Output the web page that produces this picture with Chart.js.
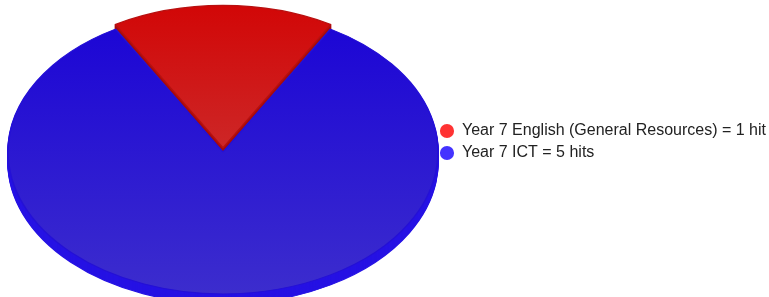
<!DOCTYPE html>
<html>
<head>
<meta charset="utf-8">
<script src="https://cdn.jsdelivr.net/npm/chart.js@4/dist/chart.umd.min.js"></script>
<style>
  html, body { margin: 0; padding: 0; background: #fff; }
  #wrap { width: 769px; height: 297px; position: relative; }
</style>
</head>
<body>
<div id="wrap"><canvas id="c"></canvas></div>
<script>
// ---- data ----
const categories = ['Year 7 English (General Resources)', 'Year 7 ICT'];
const hits = [1, 5];
const legendLabels = categories.map((c, i) => c + ' = ' + hits[i] + (hits[i] === 1 ? ' hit' : ' hits'));

// ---- styles ----
const topColors = [['#d20505', '#c84848'], ['#1902d6', '#3d2ecd']];
const sideColors = ['#a80a0a', '#2612e4'];
const edgeColors = ['#b81010', '#2410d6'];
const legendColors = ['#ff3333', '#4433ff'];
const explode = [16, 0];

function topGradient(c) {
  const i = c.dataIndex;
  const chart = c.chart;
  const area = chart.chartArea;
  if (!area || i === undefined) return topColors[0][0];
  const g = chart.ctx.createLinearGradient(0, area.top, 0, area.bottom);
  g.addColorStop(0, topColors[i][0]);
  g.addColorStop(1, topColors[i][1]);
  return g;
}

const tilt3d = {
  id: 'tilt3d',
  beforeDatasetsDraw(chart, args, opts) {
    const meta = chart.getDatasetMeta(0);
    const arcs = meta.data;
    if (!arcs.length) return;
    const ctx = chart.ctx;
    const cx = arcs[0].x, cy = arcs[0].y, R = arcs[0].outerRadius;
    const sx = opts.radiusX / R;
    const sy = opts.radiusX * opts.tilt / R;
    for (let d = opts.depth; d >= 1; d--) {
      arcs.forEach((arc, i) => {
        ctx.save();
        ctx.translate(cx, cy + d);
        ctx.scale(sx, sy);
        ctx.translate(-cx, -cy);
        const saved = arc.options;
        arc.options = Object.assign({}, saved, { backgroundColor: sideColors[i], borderColor: sideColors[i] });
        arc.draw(ctx);
        arc.options = saved;
        ctx.restore();
      });
    }
    ctx.save();
    ctx.translate(cx, cy);
    ctx.scale(sx, sy);
    ctx.translate(-cx, -cy);
  },
  afterDatasetsDraw(chart) {
    const meta = chart.getDatasetMeta(0);
    if (!meta.data.length) return;
    chart.ctx.restore();
  }
};

new Chart(document.getElementById('c'), {
  type: 'pie',
  data: {
    labels: legendLabels,
    datasets: [{
      data: hits,
      backgroundColor: topGradient,
      borderColor: edgeColors,
      borderWidth: 1,
      offset: explode
    }]
  },
  options: {
    responsive: true,
    maintainAspectRatio: false,
    animation: false,
    rotation: -30,
    layout: { padding: { left: 12, top: 7, right: -7, bottom: 0 } },
    plugins: {
      tooltip: { enabled: false },
      tilt3d: { radiusX: 215, tilt: 0.66, depth: 10 },
      legend: {
        position: 'right',
        align: 'start',
        title: { display: true, text: '', padding: { top: 98, bottom: 0 }, font: { size: 10 } },
        labels: {
          usePointStyle: true,
          boxWidth: 14,
          boxHeight: 10,
          padding: 6,
          color: '#222',
          font: { family: "'Liberation Sans', Arial, sans-serif", size: 16 },
          generateLabels: (chart) => chart.data.labels.map((text, i) => ({
            text,
            fillStyle: legendColors[i],
            strokeStyle: legendColors[i],
            lineWidth: 0,
            pointStyle: 'circle',
            hidden: false,
            index: i,
            fontColor: '#222'
          }))
        }
      }
    }
  },
  plugins: [tilt3d]
});
</script>
</body>
</html>
